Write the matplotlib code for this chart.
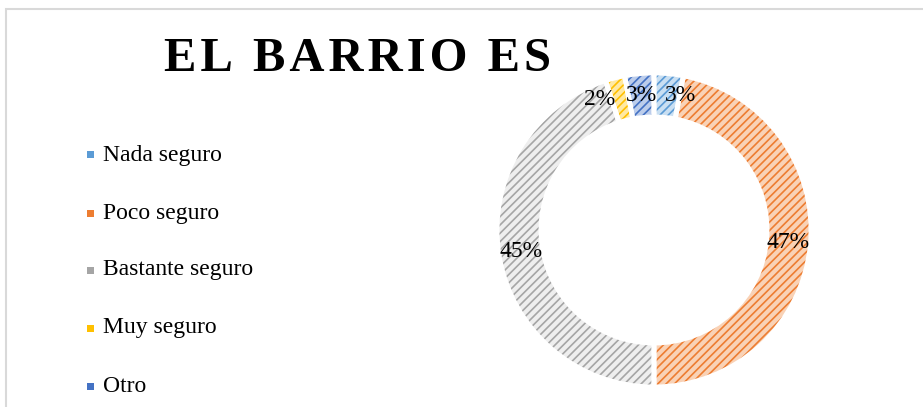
import matplotlib.pyplot as plt
from matplotlib.patches import Rectangle

# data
categories = ["Nada seguro", "Poco seguro", "Bastante seguro", "Muy seguro", "Otro"]
values = [3, 47, 45, 2, 3]
base_colors = ["#C9DFF2", "#F9D2B6", "#EEEEEE", "#FFE9A3", "#BCCDEB"]
hatch_colors = ["#5B9BD5", "#ED7D31", "#A5A5A5", "#FFC000", "#4472C4"]
title = "EL BARRIO ES"

plt.rcParams['font.family'] = ['Liberation Serif', 'DejaVu Serif']
plt.rcParams['hatch.linewidth'] = 1.2

W, H = 923, 407
fig = plt.figure(figsize=(W / 100, H / 100), dpi=100)

# light frame (top + left visible)
fig.add_artist(Rectangle((6 / W, -0.1), 1.2, (H - 9) / H + 0.1, transform=fig.transFigure,
                         fill=False, edgecolor="#D9D9D9", linewidth=1.5))

# donut axes: centre (654, 230) px, radius 157 px
cx, cy, r = 654, 230, 157
half = 162
ax = fig.add_axes([(cx - half) / W, (H - cy - half) / H, 2 * half / W, 2 * half / H])

ring = 0.28
wedges, texts, pcts = ax.pie(values, colors=base_colors, startangle=90, counterclock=False,
                             radius=1, wedgeprops=dict(width=ring, linewidth=0),
                             autopct='%1.0f%%', pctdistance=0.86,
                             textprops=dict(fontsize=17, color='black'))
for w, hc in zip(wedges, hatch_colors):
    w.set_hatch('////')
    w.set_edgecolor(hc)
    w.set_linewidth(0)

# white gaps between slices
outline, _ = ax.pie(values, startangle=90, counterclock=False, radius=1,
                    wedgeprops=dict(width=ring, linewidth=3.5, edgecolor='white', fill=False))

lim = half / r
ax.set_xlim(-lim, lim)
ax.set_ylim(-lim, lim)
ax.set_aspect('equal')
ax.axis('off')

# small labels nudged apart like the original
pcts[0].set_x(pcts[0].get_position()[0] + 0.09)
pcts[3].set_x(pcts[3].get_position()[0] - 0.13)
for t in pcts:
    t.set_zorder(5)

# title (slightly spaced letters)
fig.text(358 / W, 1 - 59 / H, "\u200a".join(title), ha='center', va='center', fontsize=35,
         fontweight='bold')

# legend
leg_x = 90
leg_rows = [155, 213, 270, 328, 386]
for name, col, y in zip(categories, hatch_colors, leg_rows):
    fig.add_artist(Rectangle(((leg_x - 3.5) / W, 1 - (y + 3.5) / H), 7 / W, 7 / H,
                             transform=fig.transFigure, facecolor=col, edgecolor='none'))
    fig.text((leg_x + 13) / W, 1 - y / H, name, ha='left', va='center', fontsize=17)

fig.savefig("out.png", dpi=100)
